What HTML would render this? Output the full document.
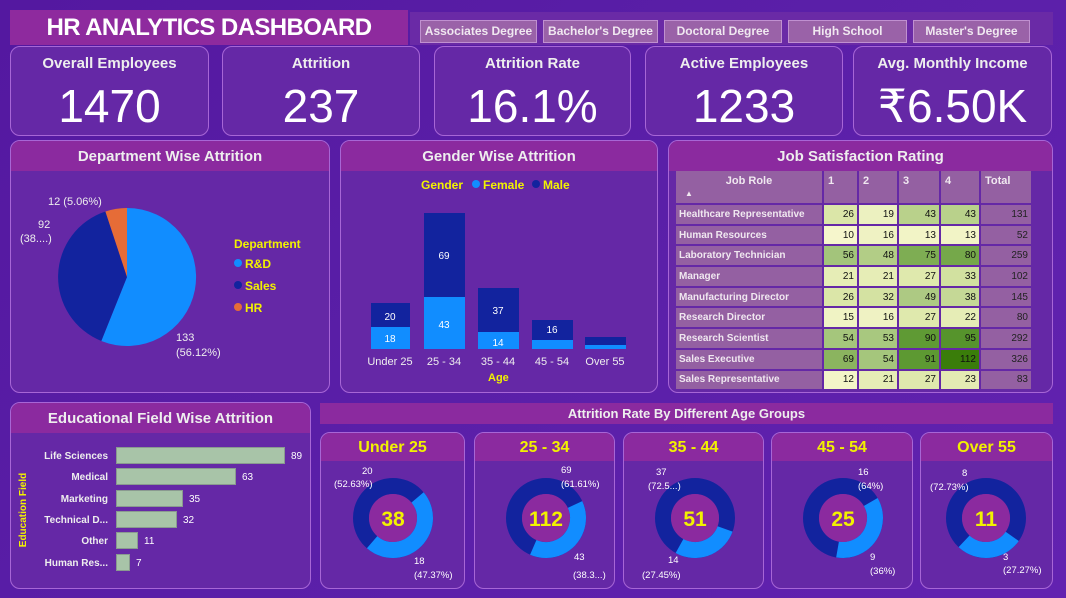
<!DOCTYPE html>
<html><head><meta charset="utf-8"><style>
*{box-sizing:border-box;margin:0;padding:0}
body{width:1066px;height:598px;overflow:hidden;background:linear-gradient(135deg,#5418a0,#5a1fa8 50%,#6222b0);font-family:"Liberation Sans",sans-serif;position:relative;color:#fff}
.a{position:absolute}
.card{position:absolute;border:1px solid #a766d6;border-radius:10px;background:#6528a6;overflow:hidden}
.hd{position:absolute;left:0;right:0;top:0;background:#8b2a9f;text-align:center;font-weight:bold;color:#eee;font-size:15px}
.kt{position:absolute;left:0;right:0;top:8px;text-align:center;font-weight:bold;font-size:15px;color:#eee}
.kv{position:absolute;left:0;right:0;top:32px;text-align:center;font-size:46px;color:#fff}
.btn{position:absolute;top:20px;height:23px;background:#9a62a8;border:1px solid #c090d0;font-size:12px;font-weight:bold;color:#f0e8f0;text-align:center;line-height:21px}
table{border-collapse:separate;border-spacing:2px;font-size:10px}
td{height:18.7px;padding:0 3px;text-align:right;color:#111}
td.r{text-align:left;color:#f0e8f0;font-weight:bold;background:#9460a2}
td.t{background:#9460a2;color:#222}
th{background:#9460a2;color:#f0e8f0;font-size:11px;text-align:left;padding:4px 4px;height:27px;vertical-align:top}
svg text{font-family:"Liberation Sans",sans-serif}
</style></head><body>
<div class="a" style="left:10px;top:10px;width:398px;height:35px;background:#8e2a9e;text-align:center;font-weight:bold;font-size:24px;letter-spacing:-0.6px;line-height:35px">HR ANALYTICS DASHBOARD</div>
<div class="a" style="left:410px;top:12px;width:643px;height:33px;background:#6a2aa6"></div>
<div class="btn" style="left:420px;width:117px">Associates Degree</div>
<div class="btn" style="left:543px;width:115px">Bachelor's Degree</div>
<div class="btn" style="left:664px;width:118px">Doctoral Degree</div>
<div class="btn" style="left:788px;width:119px">High School</div>
<div class="btn" style="left:913px;width:117px">Master's Degree</div>

<div class="card" style="left:10px;top:46px;width:199px;height:90px"><div class="kt">Overall Employees</div><div class="kv">1470</div></div>
<div class="card" style="left:222px;top:46px;width:198px;height:90px"><div class="kt">Attrition</div><div class="kv">237</div></div>
<div class="card" style="left:434px;top:46px;width:197px;height:90px"><div class="kt">Attrition Rate</div><div class="kv">16.1%</div></div>
<div class="card" style="left:645px;top:46px;width:198px;height:90px"><div class="kt">Active Employees</div><div class="kv">1233</div></div>
<div class="card" style="left:853px;top:46px;width:199px;height:90px"><div class="kt">Avg. Monthly Income</div><div class="kv">₹6.50K</div></div>

<div class="card" style="left:10px;top:140px;width:320px;height:253px"><div class="hd" style="height:30px;line-height:32px">Department Wise Attrition</div></div>
<div class="card" style="left:340px;top:140px;width:318px;height:253px"><div class="hd" style="height:30px;line-height:32px">Gender Wise Attrition</div></div>
<div class="card" style="left:668px;top:140px;width:385px;height:253px"><div class="hd" style="height:30px;line-height:32px">Job Satisfaction Rating</div></div>

<svg class="a" style="left:0;top:0" width="1066" height="598">
<path d="M127,277 L127,208 A69,69 0 1,1 101.3,341 Z" fill="#118dff"/>
<path d="M127,277 L101.3,341 A69,69 0 0,1 105.4,211.5 Z" fill="#12239e"/>
<path d="M127,277 L105.4,211.5 A69,69 0 0,1 127,208 Z" fill="#e66c37"/>
<g font-size="11" fill="#eee">
<text x="48" y="205">12 (5.06%)</text>
<text x="38" y="228">92</text><text x="20" y="242">(38....)</text>
<text x="176" y="341">133</text><text x="176" y="356">(56.12%)</text>
</g>
<g font-size="12" font-weight="bold" fill="#f2f200">
<text x="234" y="248">Department</text>
<circle cx="238" cy="263" r="4" fill="#118dff"/><text x="245" y="268">R&amp;D</text>
<circle cx="238" cy="285" r="4" fill="#12239e"/><text x="245" y="290">Sales</text>
<circle cx="238" cy="307" r="4" fill="#e66c37"/><text x="245" y="312">HR</text>
<text x="421" y="189">Gender</text>
<circle cx="476" cy="184" r="4" fill="#118dff"/><text x="483" y="189">Female</text>
<circle cx="536" cy="184" r="4" fill="#12239e"/><text x="543" y="189">Male</text>
<text x="488" y="381" font-size="11">Age</text>
</g>
<g>
<rect x="371" y="327" width="39" height="22" fill="#118dff"/><rect x="371" y="303" width="39" height="24" fill="#12239e"/>
<rect x="424" y="297" width="41" height="52" fill="#118dff"/><rect x="424" y="213" width="41" height="84" fill="#12239e"/>
<rect x="478" y="332" width="41" height="17" fill="#118dff"/><rect x="478" y="288" width="41" height="44" fill="#12239e"/>
<rect x="532" y="340" width="41" height="9" fill="#118dff"/><rect x="532" y="320" width="41" height="20" fill="#12239e"/>
<rect x="585" y="345" width="41" height="4" fill="#118dff"/><rect x="585" y="337" width="41" height="8" fill="#12239e"/>
</g>
<g font-size="10" fill="#fff" text-anchor="middle">
<text x="390" y="320">20</text><text x="390" y="342">18</text>
<text x="444" y="259">69</text><text x="444" y="328">43</text>
<text x="498" y="314">37</text><text x="498" y="346">14</text>
<text x="552" y="333">16</text>
</g>
<g font-size="11" fill="#eee" text-anchor="middle">
<text x="390" y="365">Under 25</text><text x="444" y="365">25 - 34</text><text x="498" y="365">35 - 44</text><text x="552" y="365">45 - 54</text><text x="605" y="365">Over 55</text>
</g>
</svg>

<div class="a" style="left:674px;top:169px">
<table>
<tr><th style="width:146px;text-align:center">Job Role<br><span style="font-size:8px;position:relative;left:-60px">▲</span></th><th style="width:33px">1</th><th style="width:38px">2</th><th style="width:40px">3</th><th style="width:38px">4</th><th style="width:50px">Total</th></tr>
<tr><td class="r">Healthcare Representative</td><td style="background:#dbe6a8">26</td><td style="background:#ecf1c0">19</td><td style="background:#b9d18b">43</td><td style="background:#b9d18b">43</td><td class="t">131</td></tr>
<tr><td class="r">Human Resources</td><td style="background:#f6f6cc">10</td><td style="background:#eff2c3">16</td><td style="background:#f2f4c6">13</td><td style="background:#f2f4c6">13</td><td class="t">52</td></tr>
<tr><td class="r">Laboratory Technician</td><td style="background:#a3c47b">56</td><td style="background:#b2cd86">48</td><td style="background:#7ead53">75</td><td style="background:#75a84a">80</td><td class="t">259</td></tr>
<tr><td class="r">Manager</td><td style="background:#e6edb6">21</td><td style="background:#e6edb6">21</td><td style="background:#dfe9ad">27</td><td style="background:#d2e1a0">33</td><td class="t">102</td></tr>
<tr><td class="r">Manufacturing Director</td><td style="background:#dbe6a8">26</td><td style="background:#d4e2a2">32</td><td style="background:#adc983">49</td><td style="background:#c5d896">38</td><td class="t">145</td></tr>
<tr><td class="r">Research Director</td><td style="background:#f0f3c4">15</td><td style="background:#eff2c3">16</td><td style="background:#dfe9ad">27</td><td style="background:#e6edb6">22</td><td class="t">80</td></tr>
<tr><td class="r">Research Scientist</td><td style="background:#a5c67c">54</td><td style="background:#a8c87f">53</td><td style="background:#5f9a34">90</td><td style="background:#56942c">95</td><td class="t">292</td></tr>
<tr><td class="r">Sales Executive</td><td style="background:#8bb45f">69</td><td style="background:#a5c67c">54</td><td style="background:#5d9932">91</td><td style="background:#3a7d0a">112</td><td class="t">326</td></tr>
<tr><td class="r">Sales Representative</td><td style="background:#f4f5c8">12</td><td style="background:#e6edb6">21</td><td style="background:#dfe9ad">27</td><td style="background:#e4ebb3">23</td><td class="t">83</td></tr>
</table></div>

<div class="card" style="left:10px;top:402px;width:301px;height:187px"><div class="hd" style="height:30px;line-height:32px">Educational Field Wise Attrition</div></div>
<div class="a" style="left:320px;top:403px;width:733px;height:21px;background:#8b2a9f;text-align:center;font-weight:bold;font-size:13px;line-height:21px;color:#eee">Attrition Rate By Different Age Groups</div>

<div class="card" style="left:320px;top:432px;width:145px;height:157px"><div class="hd" style="height:28px;line-height:29px;color:#f2f200;font-size:16px">Under 25</div></div>
<div class="card" style="left:474px;top:432px;width:141px;height:157px"><div class="hd" style="height:28px;line-height:29px;color:#f2f200;font-size:16px">25 - 34</div></div>
<div class="card" style="left:623px;top:432px;width:141px;height:157px"><div class="hd" style="height:28px;line-height:29px;color:#f2f200;font-size:16px">35 - 44</div></div>
<div class="card" style="left:771px;top:432px;width:142px;height:157px"><div class="hd" style="height:28px;line-height:29px;color:#f2f200;font-size:16px">45 - 54</div></div>
<div class="card" style="left:920px;top:432px;width:133px;height:157px"><div class="hd" style="height:28px;line-height:29px;color:#f2f200;font-size:16px">Over 55</div></div>

<svg class="a" style="left:0;top:0" width="1066" height="598">
<g font-size="10" font-weight="bold" fill="#eee" text-anchor="end">
<text x="108" y="459">Life Sciences</text><text x="108" y="480">Medical</text><text x="108" y="502">Marketing</text><text x="108" y="523">Technical D...</text><text x="108" y="544">Other</text><text x="108" y="566">Human Res...</text>
</g>
<g fill="#a8c4a8" stroke="#8a9a90">
<rect x="116.5" y="447.5" width="168" height="16"/><rect x="116.5" y="468.5" width="119" height="16"/><rect x="116.5" y="490.5" width="66" height="16"/><rect x="116.5" y="511.5" width="60" height="16"/><rect x="116.5" y="532.5" width="21" height="16"/><rect x="116.5" y="554.5" width="13" height="16"/>
</g>
<g font-size="10" fill="#fff">
<text x="291" y="459">89</text><text x="242" y="480">63</text><text x="189" y="502">35</text><text x="183" y="523">32</text><text x="144" y="544">11</text><text x="136" y="566">7</text>
</g>
<text transform="translate(26,510) rotate(-90)" text-anchor="middle" font-size="10" font-weight="bold" fill="#f2f200">Education Field</text>

<g fill="none" stroke-width="16">
<circle cx="393" cy="518" r="32" stroke="#12239e"/>
<circle cx="393" cy="518" r="32" stroke="#118dff" stroke-dasharray="95.2 201" transform="rotate(-40 393 518)"/>
<circle cx="546" cy="518" r="32" stroke="#12239e"/>
<circle cx="546" cy="518" r="32" stroke="#118dff" stroke-dasharray="77.2 201" transform="rotate(-25 546 518)"/>
<circle cx="695" cy="518" r="32" stroke="#12239e"/>
<circle cx="695" cy="518" r="32" stroke="#118dff" stroke-dasharray="55.2 201" transform="rotate(20 695 518)"/>
<circle cx="843" cy="518" r="32" stroke="#12239e"/>
<circle cx="843" cy="518" r="32" stroke="#118dff" stroke-dasharray="72.4 201" transform="rotate(-30 843 518)"/>
<circle cx="986" cy="518" r="32" stroke="#12239e"/>
<circle cx="986" cy="518" r="32" stroke="#118dff" stroke-dasharray="54.8 201" transform="rotate(35 986 518)"/>
</g>
<g fill="#8b2a9f"><circle cx="393" cy="518" r="24"/><circle cx="546" cy="518" r="24"/><circle cx="695" cy="518" r="24"/><circle cx="843" cy="518" r="24"/><circle cx="986" cy="518" r="24"/></g>
<g font-size="21" font-weight="bold" fill="#f2f200" text-anchor="middle">
<text x="393" y="526">38</text><text x="546" y="526">112</text><text x="695" y="526">51</text><text x="843" y="526">25</text><text x="986" y="526">11</text>
</g>
<g font-size="9.5" fill="#fff">
<text x="362" y="474">20</text><text x="334" y="487">(52.63%)</text>
<text x="414" y="564">18</text><text x="414" y="578">(47.37%)</text>
<text x="561" y="473">69</text><text x="561" y="487">(61.61%)</text>
<text x="574" y="560">43</text><text x="573" y="578">(38.3...)</text>
<text x="656" y="475">37</text><text x="648" y="489">(72.5...)</text>
<text x="668" y="563">14</text><text x="642" y="578">(27.45%)</text>
<text x="858" y="475">16</text><text x="858" y="489">(64%)</text>
<text x="870" y="560">9</text><text x="870" y="574">(36%)</text>
<text x="962" y="476">8</text><text x="930" y="490">(72.73%)</text>
<text x="1003" y="560">3</text><text x="1003" y="573">(27.27%)</text>
</g>
</svg>
</body></html>
